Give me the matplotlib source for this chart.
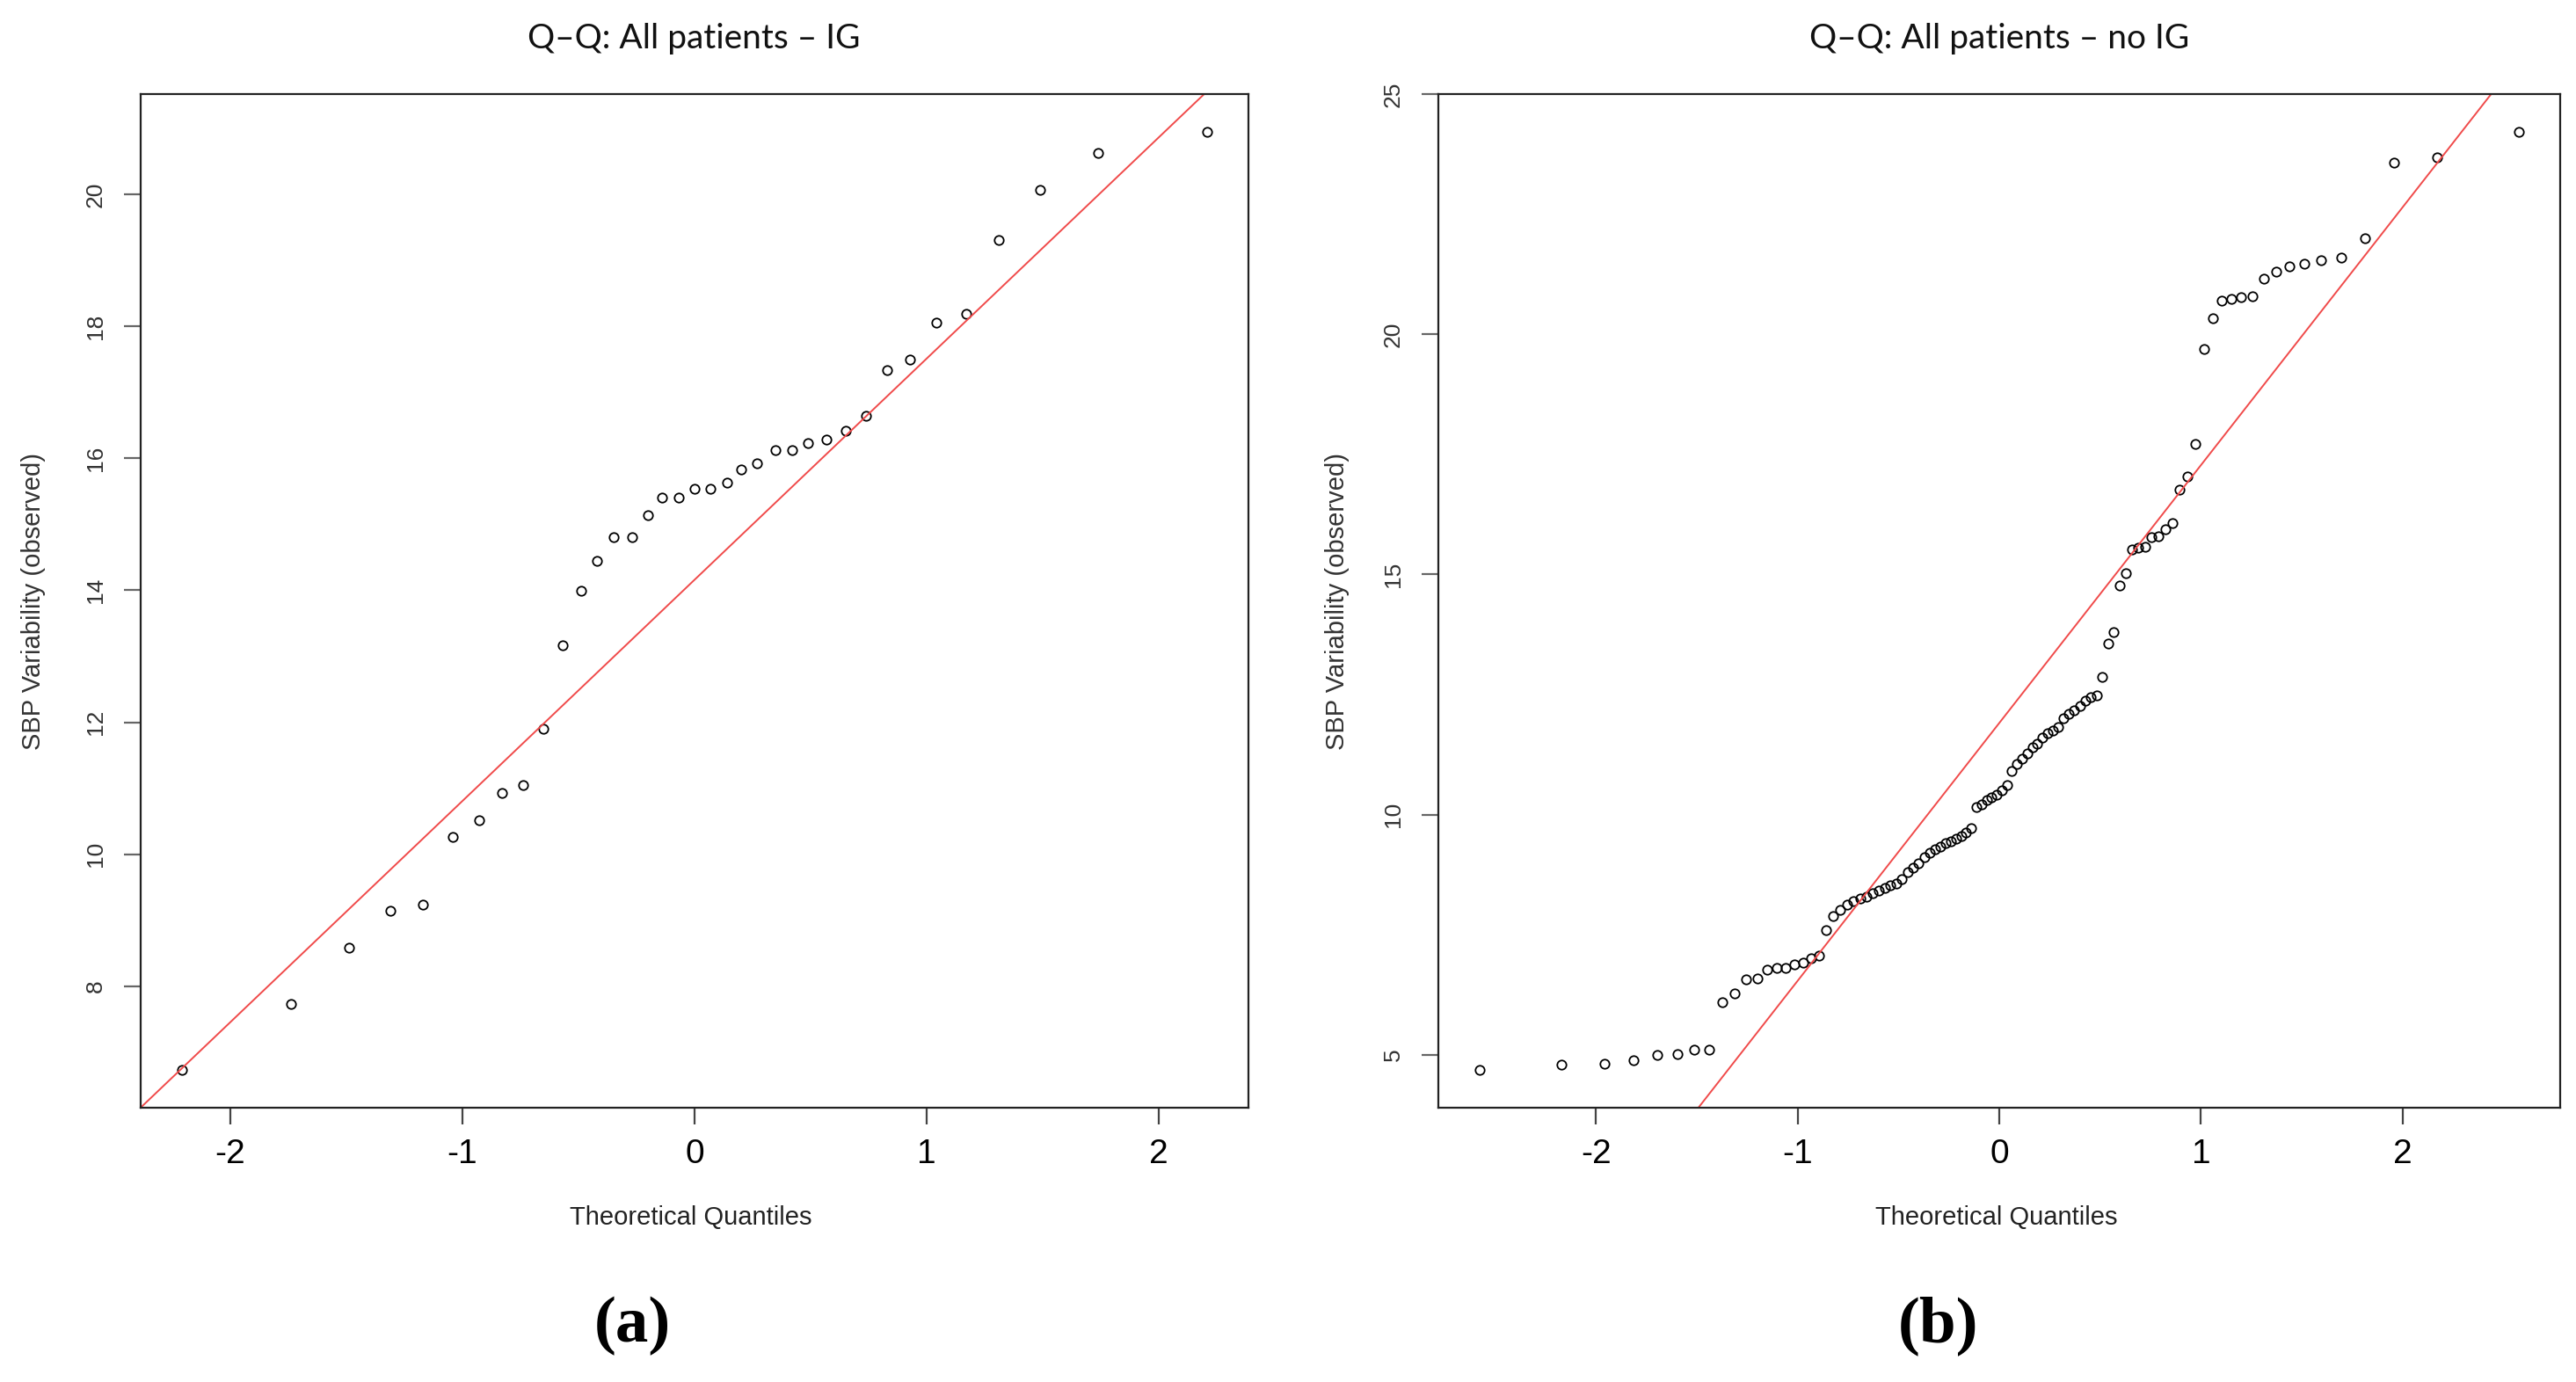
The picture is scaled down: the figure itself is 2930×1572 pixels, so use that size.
import matplotlib
matplotlib.use("Agg")
import matplotlib.pyplot as plt
import numpy as np

# theoretical quantiles and observed SBP variability
ig_theo = [-2.21, -1.74, -1.49, -1.31, -1.17, -1.04, -0.93, -0.83, -0.74, -0.65,
           -0.57, -0.49, -0.42, -0.35, -0.27, -0.20, -0.14, -0.07, 0.00, 0.07,
           0.14, 0.20, 0.27, 0.35, 0.42, 0.49, 0.57, 0.65, 0.74, 0.83,
           0.93, 1.04, 1.17, 1.31, 1.49, 1.74, 2.21]
ig_obs = [6.73, 7.73, 8.58, 9.15, 9.24, 10.26, 10.52, 10.93, 11.05, 11.90,
          13.17, 13.99, 14.45, 14.81, 14.81, 15.14, 15.40, 15.40, 15.54, 15.54,
          15.63, 15.83, 15.93, 16.13, 16.13, 16.23, 16.29, 16.42, 16.65, 17.34,
          17.50, 18.06, 18.19, 19.31, 20.07, 20.63, 20.95]

noig_theo = [-2.576, -2.170, -1.960, -1.812, -1.695, -1.598, -1.514, -1.440, -1.372, -1.311,
             -1.254, -1.200, -1.150, -1.103, -1.058, -1.015, -0.974, -0.935, -0.896, -0.860,
             -0.824, -0.789, -0.755, -0.722, -0.690, -0.659, -0.628, -0.598, -0.568, -0.539,
             -0.510, -0.482, -0.454, -0.426, -0.399, -0.372, -0.345, -0.319, -0.292, -0.266,
             -0.240, -0.215, -0.189, -0.164, -0.138, -0.113, -0.088, -0.063, -0.038, -0.013,
             0.013, 0.038, 0.063, 0.088, 0.113, 0.138, 0.164, 0.189, 0.215, 0.240,
             0.266, 0.292, 0.319, 0.345, 0.372, 0.399, 0.426, 0.454, 0.482, 0.510,
             0.539, 0.568, 0.598, 0.628, 0.659, 0.690, 0.722, 0.755, 0.789, 0.824,
             0.860, 0.896, 0.935, 0.974, 1.015, 1.058, 1.103, 1.150, 1.200, 1.254,
             1.311, 1.372, 1.440, 1.514, 1.598, 1.695, 1.812, 1.960, 2.170, 2.576]
noig_obs = [4.68, 4.79, 4.82, 4.88, 5.00, 5.02, 5.10, 5.11, 6.10, 6.28,
            6.57, 6.58, 6.77, 6.80, 6.81, 6.89, 6.92, 7.01, 7.07, 7.59,
            7.88, 8.01, 8.13, 8.20, 8.25, 8.30, 8.36, 8.42, 8.47, 8.52,
            8.57, 8.65, 8.80, 8.90, 8.98, 9.12, 9.20, 9.28, 9.33, 9.40,
            9.45, 9.50, 9.55, 9.62, 9.72, 10.15, 10.22, 10.30, 10.36, 10.42,
            10.50, 10.62, 10.90, 11.05, 11.17, 11.27, 11.40, 11.48, 11.60, 11.69,
            11.75, 11.82, 12.00, 12.09, 12.18, 12.27, 12.38, 12.44, 12.48, 12.86,
            13.56, 13.80, 14.77, 15.03, 15.52, 15.55, 15.58, 15.77, 15.80, 15.95,
            16.07, 16.76, 17.04, 17.71, 19.70, 20.33, 20.70, 20.74, 20.78, 20.79,
            21.15, 21.30, 21.42, 21.46, 21.55, 21.60, 22.00, 23.58, 23.68, 24.22]

titles = ["Q\u2013Q: All patients \u2013 IG", "Q\u2013Q: All patients \u2013 no IG"]
panel_tags = ["(a)", "(b)"]
ig_yticks = [8, 10, 12, 14, 16, 18, 20]
noig_yticks = [5, 10, 15, 20, 25]
xticks = [-2, -1, 0, 1, 2]

W, H = 2930, 1572
plt.rcParams["axes.unicode_minus"] = False
fig = plt.figure(figsize=(W / 100, H / 100), dpi=100)


def px(x, y):
    return x / W, 1 - y / H


def qq_panel(left, right, theo, obs, yticks):
    top, bottom = 107, 1260
    ax = fig.add_axes([left / W, 1 - bottom / H, (right - left) / W, (bottom - top) / H])
    ax.plot(theo, obs, linestyle="none", marker="o", markersize=7.5,
            markerfacecolor="none", markeredgecolor="black", markeredgewidth=1.3)
    ax.margins(0.04)
    # qqline: through the first and third quartiles
    q1, q3 = np.quantile(obs, [0.25, 0.75])
    z = 0.6744898
    slope = (q3 - q1) / (2 * z)
    icpt = q1 + z * slope
    ax.axline((0, icpt), slope=slope, color="#f04a4a", linewidth=1.4)
    ax.set_xticks(xticks)
    ax.set_yticks(yticks)
    for s in ax.spines.values():
        s.set_linewidth(1.6)
        s.set_color("#222222")
    ax.tick_params(axis="x", length=14, width=1.6, color="#444444", pad=11,
                   labelsize=28, labelcolor="black")
    ax.tick_params(axis="y", length=14, width=1.6, color="#666666", pad=14,
                   labelsize=19, labelcolor="#333333", labelrotation=90)
    for lab in ax.get_xticklabels() + ax.get_yticklabels():
        lab.set_fontfamily("Liberation Sans")
    for lab in ax.get_yticklabels():
        lab.set_va("center")
    return ax


ax1 = qq_panel(160, 1420, ig_theo, ig_obs, ig_yticks)
ax2 = qq_panel(1636, 2912, noig_theo, noig_obs, noig_yticks)

for cx, ylab_x, title, tag in [(789, 38, titles[0], panel_tags[0]),
                               (2274, 1521, titles[1], panel_tags[1])]:
    fig.text(*px(cx, 44), title, ha="center", va="center", fontsize=28,
             family="Lato", color="#111111")
    fig.text(*px(cx - 3, 1385), "Theoretical Quantiles", ha="center", va="center",
             fontsize=21, family="Liberation Sans", color="#222222")
    fig.text(*px(ylab_x, 684), "SBP Variability (observed)", ha="center", va="center",
             rotation=90, fontsize=21, family="Liberation Sans", color="#333333")
    fig.text(*px(cx - 70, 1508), tag, ha="center", va="center", fontsize=54,
             family="Liberation Serif", weight="bold", color="black")

fig.savefig("out.png", dpi=100)
